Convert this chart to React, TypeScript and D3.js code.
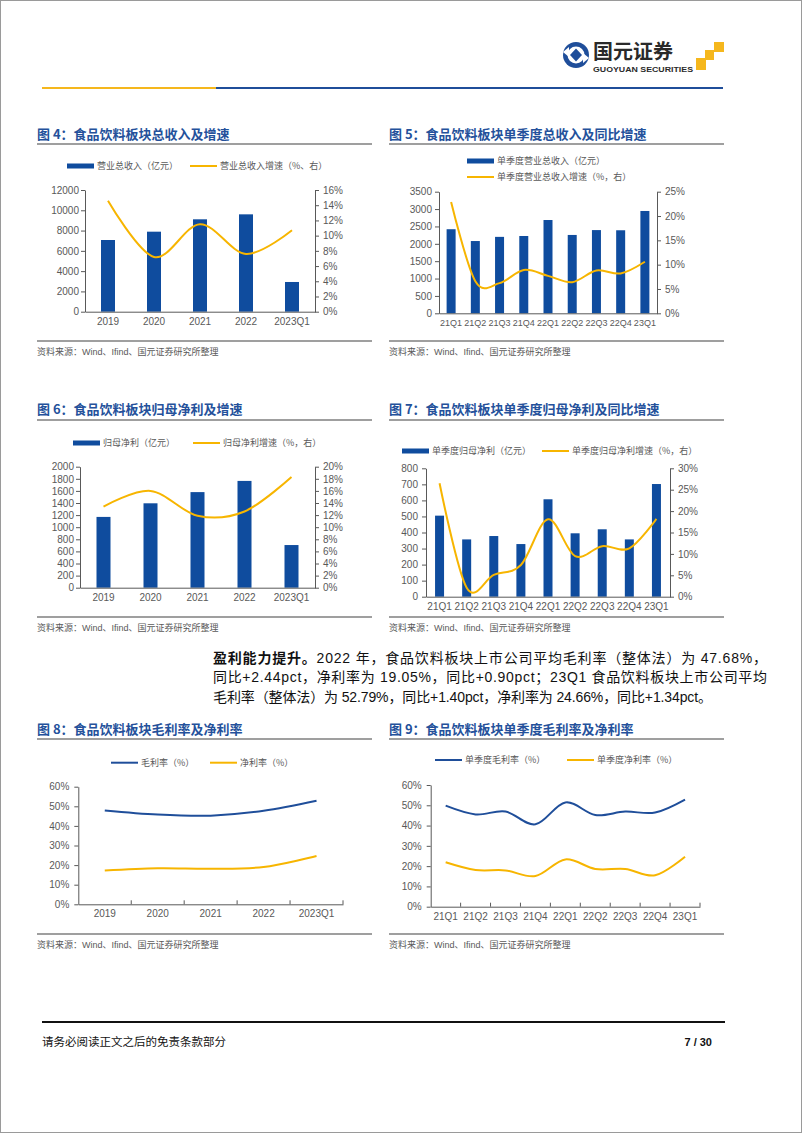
import React, { useEffect, useRef } from 'react';
import * as d3 from 'd3';

// categories
const yearCats = ['2019', '2020', '2021', '2022', '2023Q1'];
const quarterCats = ['21Q1', '21Q2', '21Q3', '21Q4', '22Q1', '22Q2', '22Q3', '22Q4', '23Q1'];

// fig 4 / 5: revenue (亿元) and yoy growth (%)
const revenue = [7070, 7890, 9110, 9600, 2930];
const revenueGrowth = [14.6, 7.2, 11.5, 7.6, 10.7];
const qRevenue = [2420, 2080, 2200, 2225, 2685, 2255, 2395, 2390, 2945];
const qRevenueGrowth = [22.9, 6.6, 6.2, 8.9, 7.7, 6.4, 8.8, 8.2, 10.6];

// fig 6 / 7: net profit attributable (亿元) and growth (%)
const netProfit = [1170, 1395, 1580, 1765, 705];
const netProfitGrowth = [13.4, 16.0, 11.9, 12.6, 18.3];
const qNetProfit = [505, 357, 378, 328, 607, 395, 420, 357, 702];
const qNetProfitGrowth = [26.5, 2.1, 5.1, 7.4, 18.1, 9.5, 11.8, 11.3, 18.2];

// fig 8 / 9: margins (%)
const grossMargin = [47.9, 45.8, 45.24, 47.68, 52.79];
const netMargin = [17.2, 18.4, 18.15, 19.05, 24.66];
const qGrossMargin = [49.8, 45.5, 46.9, 40.6, 51.39, 45.2, 46.9, 46.4, 52.79];
const qNetMargin = [21.9, 18.1, 17.9, 15.1, 23.32, 18.6, 18.6, 15.5, 24.66];

const W = 802;
const H = 1133;
const BAR = '#0f4c9e';
const GOLD = '#f7b500';
const NAVY = '#1f4e9a';
const TITLE = '#24519b';
const AXIS = '#595959';
const CJK = '"Noto Sans CJK SC", sans-serif';
const LATIN = '"Liberation Sans", Arial, "Noto Sans CJK SC", sans-serif';

type G = d3.Selection<SVGGElement, unknown, null, undefined>;

interface Legend { x: number; y: number; text: string }

interface ComboCfg {
  cats: string[];
  bars: number[];
  growth: number[];
  leftMax: number;
  leftStep: number;
  rightMax: number;
  rightStep: number;
  x0: number;
  x1: number;
  top: number;
  bottom: number;
  barW: number;
  leftPad: number;
  catSize?: number;
  barLegend: Legend;
  lineLegend: Legend;
}

interface LineCfg {
  cats: string[];
  gross: number[];
  net: number[];
  x0: number;
  x1: number;
  top: number;
  bottom: number;
  grossLegend: Legend;
  netLegend: Legend;
}

const styleAxis = (g: G, size = 10) => {
  g.select('.domain').attr('stroke', AXIS).attr('stroke-width', 1);
  g.selectAll('.tick line').attr('stroke', AXIS);
  g.selectAll('.tick text')
    .attr('fill', AXIS)
    .attr('font-size', size)
    .attr('font-family', LATIN);
};

const legendItem = (g: G, l: Legend, kind: 'bar' | 'line', color: string) => {
  if (kind === 'bar') {
    g.append('rect').attr('x', l.x).attr('y', l.y - 2.5).attr('width', 27).attr('height', 5).attr('fill', color);
  } else {
    g.append('line').attr('x1', l.x).attr('x2', l.x + 27).attr('y1', l.y).attr('y2', l.y)
      .attr('stroke', color).attr('stroke-width', 2);
  }
  g.append('text')
    .attr('x', l.x + 30)
    .attr('y', l.y)
    .attr('dy', '0.35em')
    .attr('font-size', 9)
    .attr('font-family', CJK)
    .attr('fill', AXIS)
    .text(l.text);
};

const drawCombo = (g: G, c: ComboCfg) => {
  const x = d3.scaleBand().domain(c.cats).range([c.x0, c.x1]);
  const yL = d3.scaleLinear().domain([0, c.leftMax]).range([c.bottom, c.top]);
  const yR = d3.scaleLinear().domain([0, c.rightMax]).range([c.bottom, c.top]);
  const cx = (i: number) => (x(c.cats[i]) ?? 0) + x.bandwidth() / 2;

  g.selectAll('.bar')
    .data(c.bars)
    .enter()
    .append('rect')
    .attr('x', (_, i) => cx(i) - c.barW / 2)
    .attr('y', d => yL(d))
    .attr('width', c.barW)
    .attr('height', d => c.bottom - yL(d))
    .attr('fill', BAR);

  const left = g.append('g').attr('transform', `translate(${c.x0},0)`)
    .call(d3.axisLeft(yL).tickValues(d3.range(0, c.leftMax + 1e-6, c.leftStep))
      .tickSize(4).tickSizeOuter(0).tickPadding(c.leftPad).tickFormat(d => String(d)));
  styleAxis(left);

  const right = g.append('g').attr('transform', `translate(${c.x1},0)`)
    .call(d3.axisRight(yR).tickValues(d3.range(0, c.rightMax + 1e-6, c.rightStep))
      .tickSize(4).tickSizeOuter(0).tickPadding(4).tickFormat(d => `${d}%`));
  styleAxis(right);

  const bottom = g.append('g').attr('transform', `translate(0,${c.bottom})`)
    .call(d3.axisBottom(x).tickSize(0).tickSizeOuter(0).tickPadding(6));
  styleAxis(bottom, c.catSize ?? 10);

  const line = d3.line<number>()
    .x((_, i) => cx(i))
    .y(d => yR(d))
    .curve(d3.curveCardinal.tension(0));
  g.append('path')
    .attr('d', line(c.growth))
    .attr('fill', 'none')
    .attr('stroke', GOLD)
    .attr('stroke-width', 2);

  legendItem(g, c.barLegend, 'bar', BAR);
  legendItem(g, c.lineLegend, 'line', GOLD);
};

const drawLines = (g: G, c: LineCfg) => {
  const x = d3.scaleBand().domain(c.cats).range([c.x0, c.x1]);
  const y = d3.scaleLinear().domain([0, 60]).range([c.bottom, c.top]);
  const cx = (i: number) => (x(c.cats[i]) ?? 0) + x.bandwidth() / 2;

  const left = g.append('g').attr('transform', `translate(${c.x0},0)`)
    .call(d3.axisLeft(y).tickValues(d3.range(0, 61, 10))
      .tickSize(4).tickSizeOuter(0).tickPadding(5).tickFormat(d => `${d}%`));
  styleAxis(left);

  const bottom = g.append('g').attr('transform', `translate(0,${c.bottom})`)
    .call(d3.axisBottom(x).tickSize(0).tickSizeOuter(0).tickPadding(6));
  styleAxis(bottom);

  // inside tick marks at category boundaries
  g.selectAll('.btick')
    .data(c.cats)
    .enter()
    .append('line')
    .attr('x1', d => (x(d) ?? 0) + x.bandwidth())
    .attr('x2', d => (x(d) ?? 0) + x.bandwidth())
    .attr('y1', c.bottom)
    .attr('y2', c.bottom - 4)
    .attr('stroke', AXIS);

  const line = d3.line<number>()
    .x((_, i) => cx(i))
    .y(d => y(d))
    .curve(d3.curveCardinal.tension(0));
  g.append('path').attr('d', line(c.gross)).attr('fill', 'none').attr('stroke', NAVY).attr('stroke-width', 2);
  g.append('path').attr('d', line(c.net)).attr('fill', 'none').attr('stroke', GOLD).attr('stroke-width', 2);

  legendItem(g, c.grossLegend, 'line', NAVY);
  legendItem(g, c.netLegend, 'line', GOLD);
};

const frames = [
  { x: 37, y: 134, title: '图 4：食品饮料板块总收入及增速', rule: 144, src: 341 },
  { x: 389, y: 134, title: '图 5：食品饮料板块单季度总收入及同比增速', rule: 144, src: 341 },
  { x: 37, y: 409, title: '图 6：食品饮料板块归母净利及增速', rule: 420, src: 617 },
  { x: 389, y: 409, title: '图 7：食品饮料板块单季度归母净利及同比增速', rule: 420, src: 617 },
  { x: 37, y: 729, title: '图 8：食品饮料板块毛利率及净利率', rule: 739, src: 934 },
  { x: 389, y: 729, title: '图 9：食品饮料板块单季度毛利率及净利率', rule: 739, src: 934 },
];

const paragraph = [
  { len: 554, parts: [
    { t: '盈利能力提升。', b: true },
    { t: '2022 年，食品饮料板块上市公司平均毛利率（整体法）为 47.68%，' },
  ] },
  { len: 554, parts: [{ t: '同比+2.44pct，净利率为 19.05%，同比+0.90pct；23Q1 食品饮料板块上市公司平均' }] },
  { len: 499, parts: [{ t: '毛利率（整体法）为 52.79%，同比+1.40pct，净利率为 24.66%，同比+1.34pct。' }] },
];

const App: React.FC = () => {
  const svgRef = useRef<SVGSVGElement>(null);

  useEffect(() => {
    if (!svgRef.current) return;
    const svg = d3.select(svgRef.current);
    svg.select('.charts').remove();
    const root = svg.append('g').attr('class', 'charts') as unknown as G;

    drawCombo(root.append('g'), {
      cats: yearCats, bars: revenue, growth: revenueGrowth,
      leftMax: 12000, leftStep: 2000, rightMax: 16, rightStep: 2,
      x0: 85, x1: 315, top: 190, bottom: 311.7, barW: 14, leftPad: 2,
      barLegend: { x: 67, y: 166, text: '营业总收入（亿元）' },
      lineLegend: { x: 190, y: 166, text: '营业总收入增速（%、右）' },
    });
    drawCombo(root.append('g'), {
      cats: quarterCats, bars: qRevenue, growth: qRevenueGrowth,
      leftMax: 3500, leftStep: 500, rightMax: 25, rightStep: 5,
      x0: 439, x1: 657, top: 191.7, bottom: 313.3, barW: 9, leftPad: 3, catSize: 9,
      barLegend: { x: 467, y: 161, text: '单季度营业总收入（亿元）' },
      lineLegend: { x: 467, y: 177, text: '单季度营业总收入增速（%，右）' },
    });
    drawCombo(root.append('g'), {
      cats: yearCats, bars: netProfit, growth: netProfitGrowth,
      leftMax: 2000, leftStep: 200, rightMax: 20, rightStep: 2,
      x0: 80, x1: 315, top: 466.7, bottom: 587.7, barW: 14, leftPad: 2,
      barLegend: { x: 73, y: 443, text: '归母净利（亿元）' },
      lineLegend: { x: 193, y: 443, text: '归母净利增速（%，右）' },
    });
    drawCombo(root.append('g'), {
      cats: quarterCats, bars: qNetProfit, growth: qNetProfitGrowth,
      leftMax: 800, leftStep: 100, rightMax: 30, rightStep: 5,
      x0: 426, x1: 670, top: 468.3, bottom: 596.7, barW: 9, leftPad: 4,
      barLegend: { x: 402, y: 451, text: '单季度归母净利（亿元）' },
      lineLegend: { x: 542, y: 451, text: '单季度归母净利增速（%，右）' },
    });
    drawLines(root.append('g'), {
      cats: yearCats, gross: grossMargin, net: netMargin,
      x0: 78.3, x1: 343, top: 786.7, bottom: 904.3,
      grossLegend: { x: 111, y: 762.7, text: '毛利率（%）' },
      netLegend: { x: 210, y: 762.7, text: '净利率（%）' },
    });
    drawLines(root.append('g'), {
      cats: quarterCats, gross: qGrossMargin, net: qNetMargin,
      x0: 430.7, x1: 700, top: 785, bottom: 906.7,
      grossLegend: { x: 435, y: 760, text: '单季度毛利率（%）' },
      netLegend: { x: 567, y: 760, text: '单季度净利率（%）' },
    });
  }, []);

  return (
    <div>
      <style>{'body{margin:0}'}</style>
      <svg ref={svgRef} width={W} height={H} viewBox={`0 0 ${W} ${H}`} style={{ display: 'block', background: '#fff' }}>
        <rect x={0.5} y={0.5} width={W - 1} height={H - 1} fill="#fff" stroke="#9a9a9a" />

        {/* header logo */}
        <g>
          <circle cx={576} cy={55} r={13} fill={NAVY} />
          <circle cx={576} cy={55} r={8.5} fill="#fff" />
          <path d="M563 52 L569 47 L569 57 Z" fill="#fff" />
          <path d="M589 58 L583 63 L583 53 Z" fill="#fff" />
          <path d="M576 48.5 L582 55 L576 61.5 L570 55 Z" fill={NAVY} />
          <text x={593} y={52} dy="0.35em" fontSize={20} fontWeight={700} fontFamily={CJK} fill="#2a2a2a">国元证券</text>
          <text x={593} y={69} dy="0.35em" fontSize={7.2} fontWeight={700} fontFamily={LATIN} fill="#2a2a2a" textLength={100} lengthAdjust="spacingAndGlyphs">GUOYUAN SECURITIES</text>
          <rect x={696} y={58} width={10} height={12} fill="#f5b71d" />
          <rect x={705} y={50} width={9} height={10} fill="#f5b71d" />
          <rect x={714} y={42} width={10} height={10} fill="#f5b71d" />
        </g>
        <line x1={42} x2={216} y1={88} y2={88} stroke="#f5b71d" strokeWidth={2} />
        <line x1={216} x2={723} y1={88} y2={88} stroke={NAVY} strokeWidth={2} />

        {/* figure titles, rules and sources */}
        {frames.map(f => (
          <g key={f.title}>
            <text x={f.x} y={f.y} dy="0.35em" fontSize={13} fontWeight={700} fontFamily={CJK} fill={TITLE}>{f.title}</text>
            <line x1={f.x} x2={f.x + 335} y1={f.rule} y2={f.rule} stroke="#7f7f7f" strokeWidth={1.5} />
            <line x1={f.x} x2={f.x + 335} y1={f.src} y2={f.src} stroke="#7f7f7f" strokeWidth={1.5} />
            <text x={f.x} y={f.src + 10.5} dy="0.35em" fontSize={9} fontFamily={LATIN} fill={AXIS}>资料来源：Wind、Ifind、国元证券研究所整理</text>
          </g>
        ))}

        {/* body paragraph */}
        {paragraph.map((row, i) => (
          <text key={i} x={213} y={658 + i * 19.5} dy="0.35em" fontSize={14} fontFamily={LATIN} fill="#111"
            textLength={row.len} lengthAdjust="spacing">
            {row.parts.map((p, j) => (
              <tspan key={j} fontWeight={p.b ? 700 : 400}>{p.t}</tspan>
            ))}
          </text>
        ))}

        {/* footer */}
        <line x1={42} x2={725} y1={1022} y2={1022} stroke="#111" strokeWidth={2} />
        <text x={42} y={1042} dy="0.35em" fontSize={11.5} fontFamily={CJK} fill="#111">请务必阅读正文之后的免责条款部分</text>
        <text x={712} y={1042} dy="0.35em" fontSize={11} fontWeight={700} fontFamily={LATIN} fill="#111" textAnchor="end">7 / 30</text>
      </svg>
    </div>
  );
};

export default App;
